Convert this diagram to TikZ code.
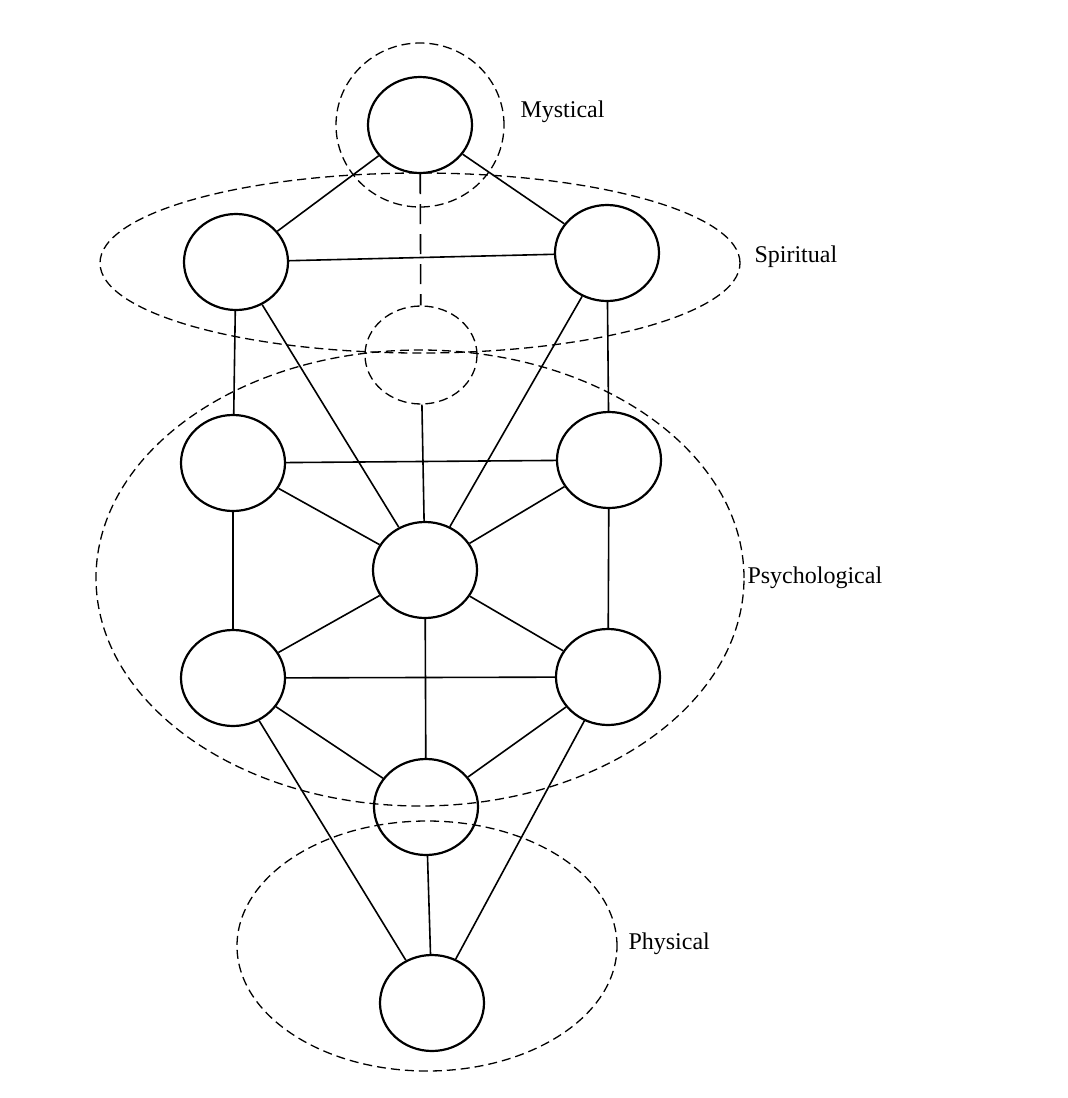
\documentclass[tikz,border=0pt]{standalone}
\usepackage{fontspec}
\setmainfont{Liberation Serif}
\usetikzlibrary{shapes.geometric}
\begin{document}
\begin{tikzpicture}[x=1pt,y=-1pt,
  s/.style={draw,line width=2.2pt,ellipse,minimum width=104pt,minimum height=96pt,inner sep=0pt},
  d/.style={draw,dash pattern=on 9pt off 5pt,line width=1.3pt},
  e/.style={line width=1.6pt},
  lab/.style={font=\fontsize{24}{28}\selectfont,anchor=west}]
\useasboundingbox (0,0) rectangle (1068,1098);
\node[s] (k) at (420,125) {};
\node[s] (b) at (236,262) {};
\node[s] (c) at (607,253) {};
\node[d,ellipse,minimum width=112pt,minimum height=98pt,inner sep=0pt] (da) at (421,355) {};
\node[s] (g) at (233,463) {};
\node[s] (h) at (609,460) {};
\node[s] (t) at (425,570) {};
\node[s] (nl) at (233,678) {};
\node[s] (nr) at (608,677) {};
\node[s] (y) at (426,807) {};
\node[s] (m) at (432,1003) {};
\draw[d] (420,125) ellipse (84pt and 82pt);
\draw[d] (420,263) ellipse (320pt and 90pt);
\draw[d] (420,578) ellipse (324pt and 228pt);
\draw[d] (427,946) ellipse (190pt and 125pt);
\draw[e] (k)--(b); \draw[e] (k)--(c);
\draw[e,dash pattern=on 20pt off 10pt] (k)--(da);
\draw[e] (da)--(t);
\draw[e] (b)--(c); \draw[e] (b)--(g); \draw[e] (b)--(t);
\draw[e] (c)--(t); \draw[e] (c)--(h);
\draw[e] (g)--(h); \draw[e] (g)--(t); \draw[e] (h)--(t);
\draw[e] (g)--(nl); \draw[e] (h)--(nr);
\draw[e] (t)--(nl); \draw[e] (t)--(nr); \draw[e] (nl)--(nr);
\draw[e] (t)--(y); \draw[e] (nl)--(y); \draw[e] (nr)--(y);
\draw[e] (y)--(m); \draw[e] (nl)--(m); \draw[e] (nr)--(m);
\node[lab] (l1) at (517,112) {Mystical};
\node[lab] (l2) at (751,257) {Spiritual};
\node[lab] (l3) at (744,578) {Psychological};
\node[lab] (l4) at (625,944) {Physical};
\end{tikzpicture}
\end{document}
